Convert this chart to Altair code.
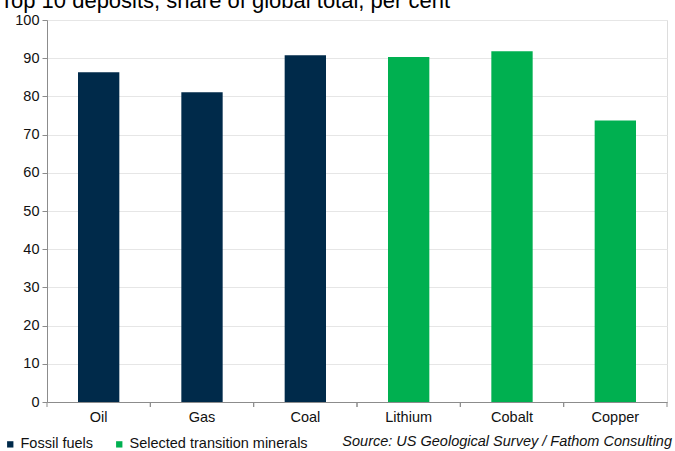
import altair as alt
import pandas as pd

categories = ["Oil", "Gas", "Coal", "Lithium", "Cobalt", "Copper"]
values = [86.3, 81.1, 90.8, 90.3, 91.8, 73.7]
groups = ["Fossil fuels", "Fossil fuels", "Fossil fuels",
          "Selected transition minerals", "Selected transition minerals", "Selected transition minerals"]
group_names = ["Fossil fuels", "Selected transition minerals"]
group_colors = ["#002a4a", "#00b050"]
title_text = "Top 10 deposits, share of global total, per cent"
source_text = "Source: US Geological Survey / Fathom Consulting"
y_ticks = list(range(0, 101, 10))

FONT = "Liberation Sans"
FS = 14.5

df = pd.DataFrame({"cat": categories, "val": values, "grp": groups})

xscale = alt.Scale(domain=categories, paddingInner=0, paddingOuter=0)

bars = alt.Chart(df).mark_bar(width=alt.RelativeBandSize(0.4)).encode(
    x=alt.X("cat:N", scale=xscale, sort=categories, title=None,
            axis=alt.Axis(labelAngle=0, ticks=False, labelPadding=8, labelFontSize=FS,
                          labelColor="#111", labelFont=FONT, domainColor="#8c8c8c", grid=False)),
    y=alt.Y("val:Q", scale=alt.Scale(domain=[0, 100], nice=False), title=None,
            axis=alt.Axis(values=y_ticks, labelFontSize=FS, labelColor="#111", labelFont=FONT,
                          domainColor="#8c8c8c", tickColor="#8c8c8c", tickSize=5, labelPadding=3,
                          gridColor="#e6e6e6")),
    color=alt.Color("grp:N", scale=alt.Scale(domain=group_names, range=group_colors), title=None,
                    legend=alt.Legend(orient="none", legendX=-44, legendY=417, direction="horizontal",
                                      symbolType="square", symbolSize=40, labelFontSize=FS,
                                      labelFont=FONT, labelColor="#111", columnPadding=18,
                                      symbolStrokeWidth=0, labelOffset=3, labelLimit=400)),
)

ticks0 = alt.Chart(df).mark_rule(color="#8c8c8c").encode(
    x=alt.X("cat:N", scale=xscale, sort=categories, bandPosition=0),
    y=alt.value(382), y2=alt.value(387),
)
ticks1 = alt.Chart(df).mark_rule(color="#8c8c8c").encode(
    x=alt.X("cat:N", scale=xscale, sort=categories, bandPosition=1),
    y=alt.value(382), y2=alt.value(387),
)

title = alt.Chart(pd.DataFrame({"t": [title_text]})).mark_text(
    align="left", baseline="alphabetic", fontSize=22, font=FONT, color="#000"
).encode(text="t:N", x=alt.value(-47), y=alt.value(-12))

source = alt.Chart(pd.DataFrame({"t": [source_text]})).mark_text(
    align="right", baseline="alphabetic", fontSize=FS, font=FONT, fontStyle="italic", color="#111"
).encode(text="t:N", x=alt.value(625), y=alt.value(426))

chart = alt.layer(bars, ticks0, ticks1, title, source).properties(
    width=620, height=382,
    padding={"left": 47, "top": 20, "right": 8, "bottom": 49},
    autosize=alt.AutoSizeParams(type="none"),
).configure_view(stroke=None).configure(background="white")

chart.save("out.html", embed_options={"renderer": "svg", "actions": False})
